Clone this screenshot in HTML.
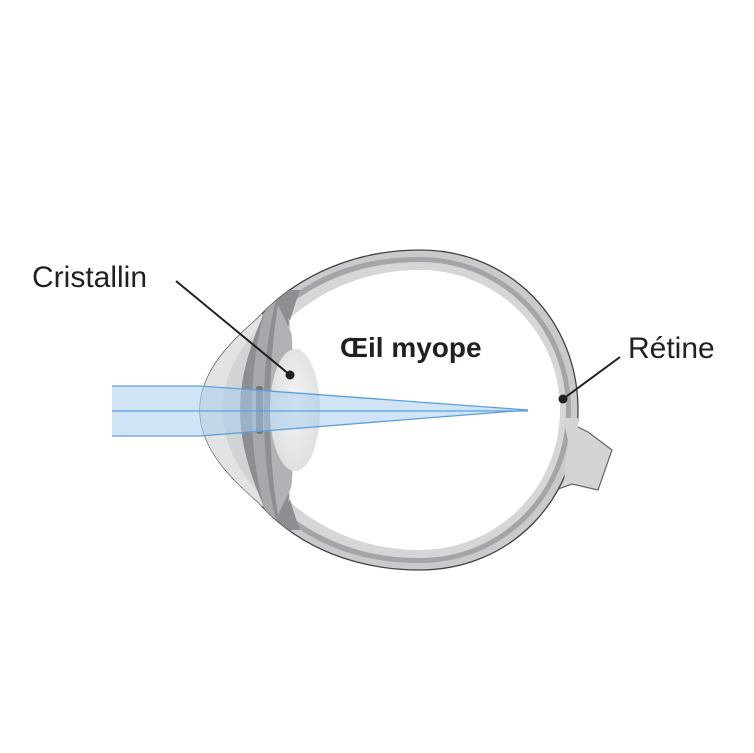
<!DOCTYPE html>
<html><head><meta charset="utf-8"><style>
html,body{margin:0;padding:0;background:#fff;}
svg{display:block;}
text{font-family:"Liberation Sans",sans-serif;fill:#231f20;}
</style></head><body>
<svg width="754" height="753" viewBox="0 0 754 753" xmlns="http://www.w3.org/2000/svg">
<defs>
<clipPath id="eye"><path d="M258,318 C300,272 360,250 420,250 C510,250 578,320 578,410 C578,500 510,570 420,570 C360,570 300,550 258,502 C238,484 200,452 200,410 C200,368 238,336 258,318 Z"/></clipPath>
<radialGradient id="lg" cx="0.5" cy="0.45" r="0.6"><stop offset="0" stop-color="#f4f4f5"/><stop offset="1" stop-color="#dcdddf"/></radialGradient>
</defs>
<path d="M560,418 L588,432 L612,450 L598,490 L572,484 L550,492 Z" fill="#d3d4d6" stroke="#666" stroke-width="1.2"/>
<path d="M258,318 C300,272 360,250 420,250 C510,250 578,320 578,410 C578,500 510,570 420,570 C360,570 300,550 258,502 C238,484 200,452 200,410 C200,368 238,336 258,318 Z" fill="#c9cacc" stroke="#444" stroke-width="1.3"/>
<g clip-path="url(#eye)">
<path d="M195,300 L262,300 L262,520 L195,520 Z" fill="#e2e3e5"/>
<path d="M258,328 C238,350 224,375 222,410 C224,445 238,470 258,492 Z" fill="#d2d3d5"/>
<path d="M280,305 C320,272 365,257 420,257 C505,257 571,325 571,410 C571,495 505,563 420,563 C365,563 320,548 280,515 Z" fill="#a3a5a8"/>
<path d="M282,310 C322,278 366,262 420,262 C502,262 566,328 566,410 C566,492 502,558 420,558 C366,558 322,542 282,510 Z" fill="#d5d6d8"/>
<path d="M290,318 C325,288 368,270 420,270 C497,270 560,332 560,410 C560,488 497,550 420,550 C368,550 325,532 290,502 Z" fill="#fff"/>
<path d="M275,290 C255,330 240,370 240,410 C240,450 255,490 275,530 L300,530 C285,490 278,450 278,410 C278,370 285,330 300,290 Z" fill="#8c8e91"/>
<path d="M268,300 C255,340 252,380 252,410 C252,440 255,480 268,520 L276,520 C266,480 264,440 264,410 C264,380 266,340 276,300 Z" fill="#a6a8ab"/>
<path d="M278,305 C290,330 300,350 305,365 L305,455 C300,470 290,490 278,515 C272,480 270,440 270,410 C270,380 272,340 278,305 Z" fill="#b0b2b5"/>
<path d="M288,318 C296,330 300,345 298,362 L292,362 C293,345 292,330 288,318 Z" fill="#fff"/>
<path d="M288,502 C296,490 300,475 298,458 L292,458 C293,475 292,490 288,502 Z" fill="#fff"/>
</g>
<path d="M563,418 L568,440 L564,482 L578,482 L578,418 Z" fill="#d3d4d6"/>
<ellipse cx="295" cy="410" rx="25" ry="61" fill="url(#lg)"/>
<rect x="256" y="386" width="7" height="48" rx="3" fill="#6f7275"/>
<path d="M112,386 L200,386 L528,410 L200,436 L112,436 Z" fill="#a9cdf0" fill-opacity="0.55"/>
<g stroke="#5b9fe0" stroke-width="1.3" fill="none">
<path d="M112,386 L200,386 L528,410"/>
<path d="M112,411 L528,411"/>
<path d="M112,436 L200,436 L528,410"/>
</g>
<text x="32" y="287" font-size="30">Cristallin</text>
<line x1="176" y1="281" x2="290" y2="375" stroke="#231f20" stroke-width="2"/>
<circle cx="290" cy="375" r="4.5" fill="#231f20"/>
<text x="340" y="357" font-size="28" font-weight="bold">Œil myope</text>
<text x="628" y="358" font-size="30">Rétine</text>
<line x1="620" y1="357" x2="563" y2="399" stroke="#231f20" stroke-width="2"/>
<circle cx="563" cy="399" r="4.5" fill="#231f20"/>
</svg>
</body></html>
